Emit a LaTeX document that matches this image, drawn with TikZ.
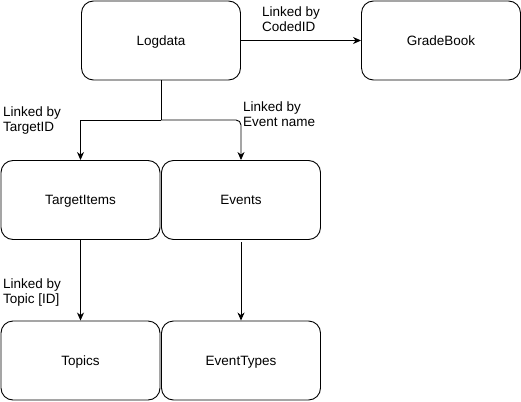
\documentclass[tikz,border=0pt]{standalone}
\usepackage{fontspec}
\setmainfont{Liberation Sans}
\usetikzlibrary{arrows.meta}
\begin{document}
\begin{tikzpicture}[x=1pt,y=-1pt,
  box/.style={draw,line width=0.9pt,rounded corners=12pt,minimum width=159pt,minimum height=79pt,inner sep=0pt,text height=9.7pt,text depth=0pt,font=\fontsize{13.5}{15}\selectfont},
  lbl/.style={anchor=north west,align=left,inner sep=0pt,font=\fontsize{13.5}{15}\selectfont},
  conn/.style={draw,line width=0.9pt,-{Stealth[length=8pt,width=7pt,inset=2.5pt]}}]
\useasboundingbox (0,0) rectangle (521,401);
\node[box] (log) at (161,40.5) {Logdata};
\node[box] (grade) at (441,40.5) {GradeBook};
\node[box] (target) at (80.5,200) {TargetItems};
\node[box] (events) at (241,200) {Events};
\node[box] (topics) at (80.5,360.5) {Topics};
\node[box] (etypes) at (241,360.5) {EventTypes};
\coordinate (j) at (161,120);
\draw[conn] (log) -- (grade);
\draw[line width=0.9pt] (log.south) -- (j);
\draw[conn] (j) -| (target.north);
\draw[conn,rounded corners=5pt] (j) -| (events.north);
\draw[conn] (target.south) -- (topics.north);
\draw[conn] ([yshift=-2.5pt]events.south) -- (etypes.north);
\node[lbl] (l1) at (262,6.8) {Linked by\\CodedID};
\node[lbl] (l2) at (3,107) {Linked by\\TargetID};
\node[lbl] (l3) at (243,101.8) {Linked by\\Event name};
\node[lbl] (l4) at (3,278.4) {Linked by\\Topic [ID]};
\end{tikzpicture}
\end{document}
